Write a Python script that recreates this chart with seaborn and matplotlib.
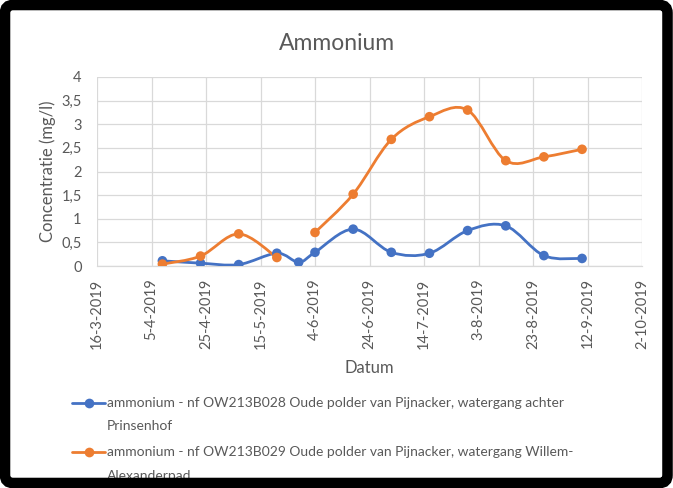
import matplotlib
matplotlib.use("Agg")
import matplotlib.pyplot as plt
import matplotlib.dates as mdates
from matplotlib.path import Path
from matplotlib.patches import PathPatch, FancyBboxPatch
from matplotlib.lines import Line2D
import numpy as np
import pandas as pd
import seaborn as sns

# ---- data ----
dates = ["9-4-2019", "23-4-2019", "7-5-2019", "21-5-2019", "29-5-2019", "4-6-2019",
         "18-6-2019", "2-7-2019", "16-7-2019", "30-7-2019", "13-8-2019", "27-8-2019",
         "10-9-2019"]
blue_vals = [0.11, 0.06, 0.03, 0.27, 0.08, 0.29, 0.78, 0.29, 0.27, 0.75, 0.85, 0.22, 0.16]
orange_vals = [0.04, 0.21, 0.68, 0.18, np.nan, 0.71, 1.52, 2.68, 3.16, 3.30, 2.23, 2.31, 2.47]
series_labels = [
    "ammonium - nf OW213B028 Oude polder van Pijnacker, watergang achter\nPrinsenhof",
    "ammonium - nf OW213B029 Oude polder van Pijnacker, watergang Willem-\nAlexanderpad",
]
colors = ["#4472C4", "#ED7D31"]
title = "Ammonium"
xlabel = "Datum"
ylabel = "Concentratie (mg/l)"
x_start, x_end = "16-3-2019", "2-10-2019"
tick_step_days = 20
y_ticks = [0, 0.5, 1, 1.5, 2, 2.5, 3, 3.5, 4]

# ---- setup ----
sns.set_theme(style="white")
plt.rcParams["font.family"] = ["Lato", "DejaVu Sans"]
txt = "#595959"
grid = "#D9D9D9"

fig = plt.figure(figsize=(6.73, 4.88), dpi=100)
fig.patch.set_facecolor("white")
ax = fig.add_axes([97/673, 1-266/488, (642-97)/673, (266-77)/488])

dt = pd.to_datetime(dates, format="%d-%m-%Y")
df = pd.DataFrame({
    "Datum": list(dt) * 2,
    "val": blue_vals + orange_vals,
    "series": [series_labels[0]] * len(dt) + [series_labels[1]] * len(dt),
})


def smooth_path(xs, ys):
    """Bezier (Catmull-Rom) path through the given data points, split at NaN."""
    verts, codes = [], []
    segs, cur = [], []
    for xv, yv in zip(xs, ys):
        if np.isnan(yv):
            if cur:
                segs.append(cur)
            cur = []
        else:
            cur.append((xv, yv))
    if cur:
        segs.append(cur)
    for seg in segs:
        p = np.array(seg, dtype=float)
        n = len(p)
        verts.append(tuple(p[0])); codes.append(Path.MOVETO)
        for i in range(n - 1):
            p0 = p[i - 1] if i > 0 else p[i]
            p1 = p[i]
            p2 = p[i + 1]
            p3 = p[i + 2] if i + 2 < n else p[i + 1]
            c1 = p1 + (p2 - p0) / 6.0
            c2 = p2 - (p3 - p1) / 6.0
            verts += [tuple(c1), tuple(c2), tuple(p2)]
            codes += [Path.CURVE4] * 3
    return Path(verts, codes)


xnum = mdates.date2num(dt)
for vals, c in zip([blue_vals, orange_vals], colors):
    pp = PathPatch(smooth_path(xnum, np.array(vals, dtype=float)), facecolor="none",
                   edgecolor=c, lw=2.0, zorder=3, capstyle="round", joinstyle="round")
    ax.add_patch(pp)

sns.scatterplot(data=df, x="Datum", y="val", hue="series", palette=colors,
                s=48, edgecolor=None, linewidth=0, zorder=4, legend=False, ax=ax)

x0 = pd.to_datetime(x_start, format="%d-%m-%Y")
x1 = pd.to_datetime(x_end, format="%d-%m-%Y")
ax.set_xlim(x0, x1)
ax.set_ylim(0, 4)
xt = pd.date_range(x0, x1, freq=f"{tick_step_days}D")
ax.set_xticks(xt)
ax.set_xticklabels([f"{d.day}-{d.month}-{d.year}" for d in xt], rotation=90,
                   fontsize=10.5, color=txt)
ax.set_yticks(y_ticks)
ax.set_yticklabels([f"{v:g}".replace(".", ",") for v in y_ticks], fontsize=10.5, color=txt)

ax.grid(True, color=grid, lw=0.9)
ax.set_axisbelow(True)
for s in ["left", "top", "right"]:
    ax.spines[s].set_visible(False)
ax.spines["bottom"].set_color(grid)
ax.spines["bottom"].set_linewidth(0.9)
ax.tick_params(axis="x", length=3, color=grid, width=0.9, pad=6)
ax.tick_params(axis="y", length=0, pad=11)

ax.set_xlabel(xlabel, fontsize=12, color=txt, labelpad=8)
ax.set_ylabel(ylabel, fontsize=12, color=txt, labelpad=4)
fig.text(337/673, 1-43/488, title, fontsize=16.5, color=txt, ha="center", va="center")

# legend (manual, first line aligned with handle)
leg_y = [403, 452]
for lab, c, yp in zip(series_labels, colors, leg_y):
    fy = 1 - yp/488
    fig.add_artist(Line2D([72/673, 105/673], [fy, fy], color=c, lw=2.0,
                          transform=fig.transFigure))
    fig.add_artist(Line2D([88.5/673], [fy], color=c, marker="o", markersize=7,
                          markeredgewidth=0, transform=fig.transFigure))
    for k, line in enumerate(lab.split("\n")):
        fig.text(107/673, 1 - (yp + 23.5*k)/488, line, fontsize=10, color=txt,
                 ha="left", va="center")

# black rounded frame
frame = FancyBboxPatch((0.05, 0.05), 6.625, 4.78,
                       boxstyle="round,pad=0,rounding_size=0.08",
                       transform=fig.dpi_scale_trans, facecolor="none",
                       edgecolor="black", lw=7.6, zorder=20)
fig.patches.append(frame)

fig.savefig("out.png", dpi=100)
